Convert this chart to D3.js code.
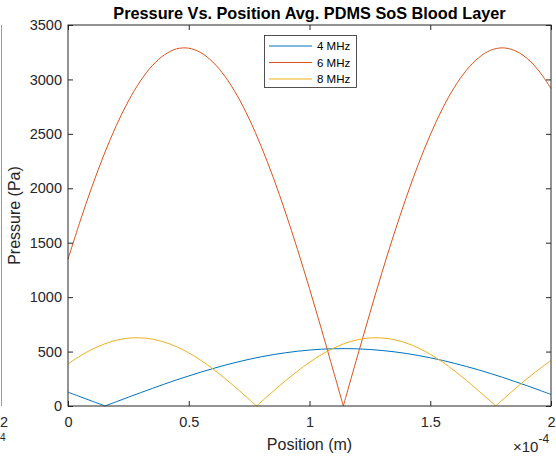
<!DOCTYPE html>
<html><head><meta charset="utf-8">
<script src="https://cdn.jsdelivr.net/npm/d3@7"></script>
<style>
html,body{margin:0;padding:0;background:#fff;}
svg text{font-family:"Liberation Sans",Arial,Helvetica,sans-serif;}
</style></head>
<body><svg id="c" width="556" height="457"></svg>
<script>
// Position in units of 1e-4 m
const positions = [0,0.05,0.1,0.15,0.2,0.25,0.3,0.35,0.4,0.45,0.5,0.55,0.6,0.65,0.7,0.75,0.8,0.85,0.9,0.95,1.0,1.05,1.1,1.15,1.2,1.25,1.3,1.35,1.4,1.45,1.5,1.55,1.6,1.65,1.7,1.75,1.8,1.85,1.9,1.95,2.0];
const seriesNames = ["4 MHz","6 MHz","8 MHz"];
const p4MHz = [127,86,44,3,39,81,122,162,202,240,276,311,344,375,403,429,452,472,489,503,514,522,526,527,525,519,510,498,483,464,443,419,392,363,332,298,263,225,187,147,106];
const p6MHz = [1348,1696,2019,2314,2576,2801,2986,3129,3227,3281,3287,3246,3159,3028,2854,2639,2385,2099,1782,1440,1078,701,313,79,469,853,1226,1580,1912,2217,2490,2729,2928,3085,3199,3268,3290,3265,3195,3078,2917];
const p8MHz = [386,459,521,569,604,623,626,614,586,544,488,420,341,253,159,62,38,136,231,320,401,473,532,578,609,625,625,610,579,534,475,405,324,235,140,42,58,156,250,337,417];
// positions where each curve touches zero
const zeros4MHz = [0.153];
const zeros6MHz = [1.14];
const zeros8MHz = [0.781, 1.771];
const xTicks = [0,0.5,1,1.5,2];
const xTickLabels = ["0","0.5","1","1.5","2"];
const yTicks = [0,500,1000,1500,2000,2500,3000,3500];
const colors = ["#0072BD","#D95319","#EDB120"];

const svg = d3.select("#c");
const L=68, R=551, T=25, B=406;
const x = d3.scaleLinear().domain([0,2]).range([L,R]);
const y = d3.scaleLinear().domain([0,3500]).range([B,T]);
const axCol = "#262626";
const fs = 14.5;

// split each series into arcs between zero crossings
function build(vals, zs){
  const pts = positions.map((p,i)=>[p, vals[i]]);
  const arcs = [];
  let cur = [];
  let zi = 0;
  const zsorted = zs.slice().sort((a,b)=>a-b);
  pts.forEach(pt=>{
    while(zi < zsorted.length && zsorted[zi] <= pt[0]){
      cur.push([zsorted[zi],0]); arcs.push(cur); cur=[[zsorted[zi],0]]; zi++;
    }
    cur.push(pt);
  });
  arcs.push(cur);
  return arcs;
}
const series = [build(p4MHz,zeros4MHz), build(p6MHz,zeros6MHz), build(p8MHz,zeros8MHz)];

// left fragment of neighbouring figure
svg.append("line").attr("x1",1.5).attr("x2",1.5).attr("y1",T).attr("y2",B).attr("stroke","#9a9a9a").attr("stroke-width",1);
svg.append("text").attr("x",0).attr("y",427).attr("font-size",fs).attr("fill",axCol).text("2");
svg.append("text").attr("x",0).attr("y",441).attr("font-size",10).attr("fill",axCol).text("4");

// curves
const line = d3.line().x(d=>x(d[0])).y(d=>y(d[1])).curve(d3.curveCatmullRom.alpha(0.5));
series.forEach((arcs,i)=>{
  svg.append("g").selectAll("path").data(arcs).join("path")
    .attr("d",line).attr("fill","none")
    .attr("stroke",colors[i]).attr("stroke-width",1);
});

// axes
function styleAxis(g){ g.select(".domain").remove(); g.selectAll("line").attr("stroke",axCol); g.selectAll("text").attr("fill",axCol).attr("font-size",fs).attr("font-family","Liberation Sans,Arial,sans-serif"); }
svg.append("g").attr("transform",`translate(0,${B})`)
  .call(d3.axisBottom(x).tickValues(xTicks).tickFormat((d,i)=>xTickLabels[i]).tickSize(-5).tickPadding(11)).call(styleAxis);
svg.append("g").attr("transform",`translate(0,${T})`)
  .call(d3.axisTop(x).tickValues(xTicks).tickFormat("").tickSize(-5)).call(styleAxis);
svg.append("g").attr("transform",`translate(${L},0)`)
  .call(d3.axisLeft(y).tickValues(yTicks).tickFormat(d3.format("d")).tickSize(-5).tickPadding(6)).call(styleAxis);
svg.append("g").attr("transform",`translate(${R},0)`)
  .call(d3.axisRight(y).tickValues(yTicks).tickFormat("").tickSize(-5)).call(styleAxis);
svg.append("rect").attr("x",L).attr("y",T).attr("width",R-L).attr("height",B-T)
  .attr("fill","none").attr("stroke",axCol).attr("stroke-width",1);

// title and labels
svg.append("text").attr("x",(L+R)/2).attr("y",18.5).attr("text-anchor","middle")
  .attr("font-size",16.3).attr("font-weight","bold").attr("fill","#000")
  .text("Pressure Vs. Position Avg. PDMS SoS Blood Layer");
svg.append("text").attr("x",(L+R)/2).attr("y",450).attr("text-anchor","middle")
  .attr("font-size",16).attr("fill",axCol).text("Position (m)");
svg.append("text").attr("transform",`translate(20,${(T+B)/2}) rotate(-90)`).attr("text-anchor","middle")
  .attr("font-size",16).attr("fill",axCol).text("Pressure (Pa)");
const ex = svg.append("text").attr("x",513).attr("y",452).attr("font-size",15).attr("fill",axCol);
ex.append("tspan").text("×10");
ex.append("tspan").attr("dy",-9).attr("font-size",12).text("-4");

// legend
const lg = svg.append("g");
lg.append("rect").attr("x",264.5).attr("y",35.5).attr("width",92).attr("height",52)
  .attr("fill","#fff").attr("stroke",axCol).attr("stroke-width",0.8);
seriesNames.forEach((n,i)=>{
  const yy = 46 + i*16.5;
  lg.append("line").attr("x1",269).attr("x2",312).attr("y1",yy).attr("y2",yy)
    .attr("stroke",colors[i]).attr("stroke-width",1);
  lg.append("text").attr("x",317).attr("y",yy).attr("dy","0.35em").attr("font-size",11.5)
    .attr("fill","#000").text(n);
});
</script></body></html>
